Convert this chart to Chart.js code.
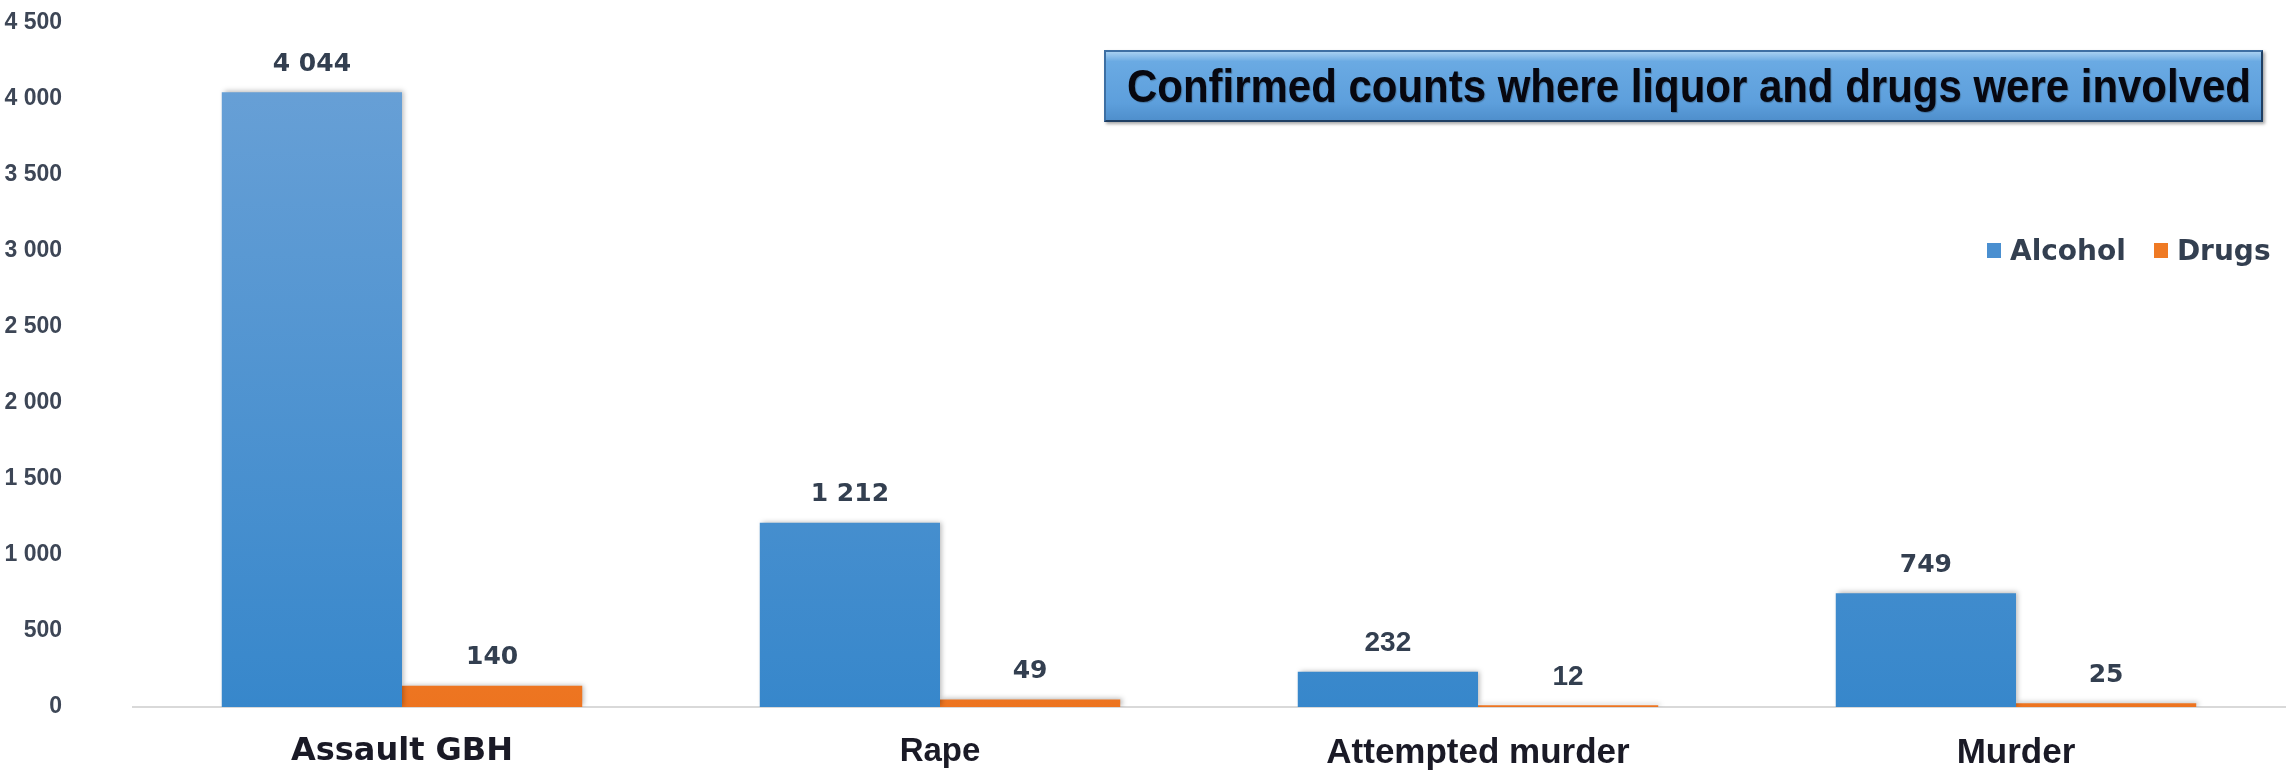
<!DOCTYPE html>
<html>
<head>
<meta charset="utf-8">
<script src="https://cdn.jsdelivr.net/npm/chart.js@4.4.1/dist/chart.umd.min.js"></script>
<style>
  body { margin: 0; background: #fff; }
  #wrap { position: relative; width: 2290px; height: 772px; }
  #title {
    position: absolute; left: 1104px; top: 50px; width: 1155px; height: 68px;
    box-sizing: content-box;
    background: linear-gradient(#a6cff0 0%, #6aaae3 14%, #5d9fdc 75%, #4f8fcc 100%);
    border: 2px solid #3d6fa3; border-right-color: #1f3f63; border-bottom-color: #1f3f63;
    box-shadow: 2px 2px 3px rgba(0,0,0,0.35);
    white-space: nowrap; overflow: hidden;
  }
  #title span {
    position: absolute; left: 21px; top: 0; line-height: 68px;
    font-family: "Liberation Sans", Arial, sans-serif; font-weight: bold; font-size: 46px;
    color: #07070f; transform-origin: 0 50%; display: inline-block;
    text-shadow: 1px 1px 1px rgba(0,0,0,0.25);
  }
  #legend { position: absolute; left: 1987px; top: 232px; height: 36px; display: flex; align-items: center;
    font-family: "DejaVu Sans", sans-serif; font-weight: bold; font-size: 28px; color: #333f50; }
  #legend .box { width: 14px; height: 15px; margin-right: 9px; }
  #legend .item { display: flex; align-items: center; margin-right: 28px; }
</style>
</head>
<body>
<div id="wrap">
  <canvas id="crimeChart"></canvas>
  <div id="title"><span id="titleText">Confirmed counts where liquor and drugs were involved</span></div>
  <div id="legend"></div>
</div>
<script>
// values
const categories = ['Assault GBH', 'Rape', 'Attempted murder', 'Murder'];
const alcohol = [4044, 1212, 232, 749];
const drugs = [140, 49, 12, 25];
const yTicks = [0, 500, 1000, 1500, 2000, 2500, 3000, 3500, 4000, 4500];

const seriesNames = ['Alcohol', 'Drugs'];
const seriesColors = ['#4a8fd0', '#ef7a24'];

const fmt = v => String(v).replace(/\B(?=(\d{3})+(?!\d))/g, ' ');

function barGradient(top, bottom) {
  return (ctx) => {
    const area = ctx.chart.chartArea;
    if (!area) return bottom;
    const g = ctx.chart.ctx.createLinearGradient(0, area.top, 0, area.bottom);
    g.addColorStop(0, top);
    g.addColorStop(1, bottom);
    return g;
  };
}

// soft shadow behind the bars, like the original
const barShadow = {
  id: 'barShadow',
  beforeDatasetsDraw(chart) {
    const c = chart.ctx;
    c.save();
    c.shadowColor = 'rgba(0,0,0,0.28)';
    c.shadowBlur = 5;
    c.shadowOffsetX = 2;
    c.shadowOffsetY = -1;
  },
  afterDatasetsDraw(chart) {
    chart.ctx.restore();
  }
};

// value labels above each bar
const valueLabels = {
  id: 'valueLabels',
  afterDatasetsDraw(chart) {
    const c = chart.ctx;
    c.save();
    c.fillStyle = '#333f50';
    c.textAlign = 'center';
    c.textBaseline = 'middle';
    chart.data.datasets.forEach((ds, di) => {
      chart.getDatasetMeta(di).data.forEach((el, i) => {
        c.font = i === 2 ? 'bold 28px "Liberation Sans"' : 'bold 25px "DejaVu Sans"';
        c.fillText(fmt(ds.data[i]), el.x, el.y - 28);
      });
    });
    c.restore();
  }
};

const ctx = document.getElementById('crimeChart').getContext('2d');
new Chart(ctx, {
  type: 'bar',
  data: {
    labels: categories,
    datasets: [
      {
        label: seriesNames[0],
        data: alcohol,
        backgroundColor: barGradient('#6ca2d7', '#3787cb'),
        categoryPercentage: 0.67,
        barPercentage: 1,
      },
      {
        label: seriesNames[1],
        data: drugs,
        backgroundColor: barGradient('#f59a4a', '#ed7420'),
        categoryPercentage: 0.67,
        barPercentage: 1,
      },
    ],
  },
  options: {
    responsive: true,
    maintainAspectRatio: false,
    animation: false,
    layout: { padding: { top: 23, right: 5, left: 0, bottom: 0 } },
    plugins: {
      legend: { display: false },
      tooltip: { enabled: false },
    },
    scales: {
      x: {
        grid: { display: false },
        border: { display: true, color: '#d9d9d9', width: 2 },
        ticks: {
          padding: 17,
          color: '#1a1a26',
          font: (c) => c.index === 0
            ? { family: 'DejaVu Sans', size: 32, weight: 'bold' }
            : { family: 'Liberation Sans', size: c.index === 1 ? 33 : 35, weight: 'bold' },
        },
        afterFit: (s) => { s.height = 65; },
      },
      y: {
        min: 0,
        max: 4500,
        grid: { display: false },
        border: { display: false },
        afterBuildTicks: (s) => { s.ticks = yTicks.map(v => ({ value: v })); },
        ticks: {
          padding: 63,
          color: '#3d4656',
          font: { family: 'Liberation Sans', size: 23, weight: 'bold' },
          callback: (v) => fmt(v),
        },
        afterFit: (s) => {
          s.width = 133;
          // the big tick padding should not push the plot down
          s.paddingTop = 14;
          s.paddingBottom = 14;
        },
      },
    },
  },
  plugins: [barShadow, valueLabels],
});

// title text squeezed to the width it has in the original
const titleText = document.getElementById('titleText');
titleText.style.transform = 'scaleX(' + (1124 / titleText.offsetWidth) + ')';

// legend as plain html, built from the series
const legend = document.getElementById('legend');
seriesNames.forEach((name, i) => {
  const item = document.createElement('div');
  item.className = 'item';
  item.innerHTML = '<div class="box" style="background:' + seriesColors[i] + '"></div><span>' + name + '</span>';
  legend.appendChild(item);
});
</script>
</body>
</html>
